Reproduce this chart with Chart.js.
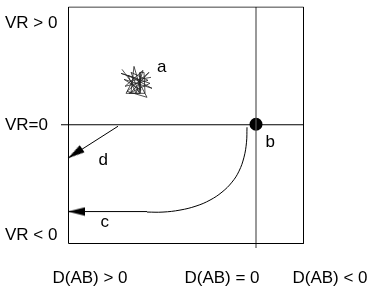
<!DOCTYPE html>
<html>
<head>
<meta charset="utf-8">
<script src="https://cdn.jsdelivr.net/npm/chart.js@4"></script>
<style>
  body { margin: 0; background: #fff; }
</style>
</head>
<body>
<canvas id="phaseChart" width="372" height="290"></canvas>
<script>
// x = D(AB) axis (0 at the vertical line), y = VR axis (0 at the horizontal line)
const boxPts = [{x: -187.5, y: 117.5}, {x: 47.5, y: 117.5}, {x: 47.5, y: -119.5}, {x: -187.5, y: -119.5}, {x: -187.5, y: 117.5}];
const vAxisPts = [{x: 0, y: 117.5}, {x: 0, y: -124}];
const hAxisPts = [{x: -195, y: -0.5}, {x: 47.5, y: -0.5}];
const pointB = [{x: 0, y: 0}];

// region a: scribble
const scribblePts = [
  {x: -134, y: 55}, {x: -117, y: 32}, {x: -125, y: 52}, {x: -108, y: 44}, {x: -131, y: 38},
  {x: -113, y: 54}, {x: -120, y: 31}, {x: -128, y: 49}, {x: -104, y: 36}, {x: -132, y: 45},
  {x: -115, y: 34}, {x: -122, y: 58}, {x: -125, y: 32}, {x: -107, y: 52}, {x: -129, y: 33},
  {x: -109, y: 27}, {x: -119, y: 46}, {x: -135, y: 51}, {x: -106, y: 41}, {x: -127, y: 31},
  {x: -111, y: 31}, {x: -112, y: 52}, {x: -116, y: 52}, {x: -116, y: 31}, {x: -130, y: 31},
  {x: -123, y: 44}, {x: -105, y: 47}
];

// path c: curve from b, then arrow to the left
const curvePts = [
  {x: -9, y: -3}, {x: -9.5, y: -18}, {x: -12, y: -33}, {x: -17, y: -47}, {x: -24, y: -58},
  {x: -34, y: -68}, {x: -46, y: -76}, {x: -60, y: -82}, {x: -76, y: -86}, {x: -93, y: -88},
  {x: -109, y: -88}
];
const arrowC = [{x: -109, y: -87.5}, {x: -188, y: -87.5}];
// path d
const arrowD = [{x: -138, y: -2}, {x: -188, y: -34}];

const yTickValues = [101, -1.5, -111];
const yTickLabels = ['VR > 0', 'VR=0', 'VR < 0'];
const xTickValues = [-166, -34, 74];
const xTickLabels = ['D(AB) > 0', 'D(AB) = 0', 'D(AB) < 0'];

const pathLabels = ['a', 'b', 'c', 'd'];
const pathLabelX = [-99, 9.5, -155.5, -157.5];
const pathLabelY = [52, -23, -103, -41];

const FONT = "'Liberation Sans', Arial, sans-serif";

// arrow head image, tip at the centre so it sits on the line end
function makeArrow() {
  const c = document.createElement('canvas');
  c.width = 36; c.height = 10;
  const g = c.getContext('2d');
  g.fillStyle = '#000';
  g.beginPath();
  g.moveTo(18, 5);
  g.lineTo(1, 0.8);
  g.lineTo(1, 9.2);
  g.closePath();
  g.fill();
  return c;
}
const arrowImg = makeArrow();

function lineSet(data, color, width, extra) {
  return Object.assign({
    data: data,
    showLine: true,
    borderColor: color,
    borderWidth: width,
    pointRadius: 0,
    tension: 0,
    fill: false
  }, extra || {});
}

const labelPlugin = {
  id: 'pathLabels',
  afterDatasetsDraw(chart) {
    const c = chart.ctx;
    const xs = chart.scales.x, ys = chart.scales.y;
    c.save();
    c.font = '17px ' + FONT;
    c.fillStyle = '#000';
    c.textAlign = 'left';
    c.textBaseline = 'alphabetic';
    pathLabels.forEach((t, i) => {
      c.fillText(t, xs.getPixelForValue(pathLabelX[i]), ys.getPixelForValue(pathLabelY[i]));
    });
    c.restore();
  }
};

// keep the plot area fixed, no extra room for edge labels
function noPad(s) {
  s.paddingLeft = 0; s.paddingRight = 0;
  s.paddingTop = 0; s.paddingBottom = 0;
}

const ctx = document.getElementById('phaseChart').getContext('2d');
new Chart(ctx, {
  type: 'scatter',
  data: {
    datasets: [
      lineSet(boxPts, '#000', 1),
      lineSet(vAxisPts, '#555', 1.2),
      lineSet(hAxisPts, '#000', 1),
      lineSet(scribblePts, '#222', 0.8),
      lineSet(curvePts, '#000', 1, {tension: 0.4}),
      lineSet(arrowC, '#000', 1, {
        pointRadius: [0, 5],
        pointStyle: arrowImg,
        rotation: 180
      }),
      lineSet(arrowD, '#000', 1, {
        pointRadius: [0, 5],
        pointStyle: arrowImg,
        rotation: 146.3
      }),
      {
        data: pointB,
        pointRadius: 6.5,
        pointBackgroundColor: '#000',
        pointBorderColor: '#000',
        pointBorderWidth: 0,
        showLine: false
      }
    ]
  },
  options: {
    responsive: false,
    animation: false,
    layout: { padding: { left: 5, top: 6, right: 22, bottom: 0 } },
    plugins: {
      legend: { display: false },
      tooltip: { enabled: false }
    },
    scales: {
      x: {
        type: 'linear',
        min: -195,
        max: 94,
        grid: { display: false, drawTicks: false },
        border: { display: false },
        afterBuildTicks: s => { s.ticks = xTickValues.map(v => ({value: v})); },
        afterFit: s => { s.height = 42; noPad(s); },
        ticks: {
          autoSkip: false,
          maxRotation: 0,
          padding: 20,
          color: '#000',
          font: { family: FONT, size: 17 },
          callback: (v, i) => xTickLabels[i]
        }
      },
      y: {
        type: 'linear',
        min: -124,
        max: 118,
        grid: { display: false, drawTicks: false },
        border: { display: false },
        afterBuildTicks: s => { s.ticks = yTickValues.map(v => ({value: v})); },
        afterFit: s => { s.width = 56; noPad(s); },
        ticks: {
          autoSkip: false,
          crossAlign: 'far',
          padding: 3,
          color: '#000',
          font: { family: FONT, size: 17 },
          callback: (v, i) => yTickLabels[i]
        }
      }
    }
  },
  plugins: [labelPlugin]
});
</script>
</body>
</html>
